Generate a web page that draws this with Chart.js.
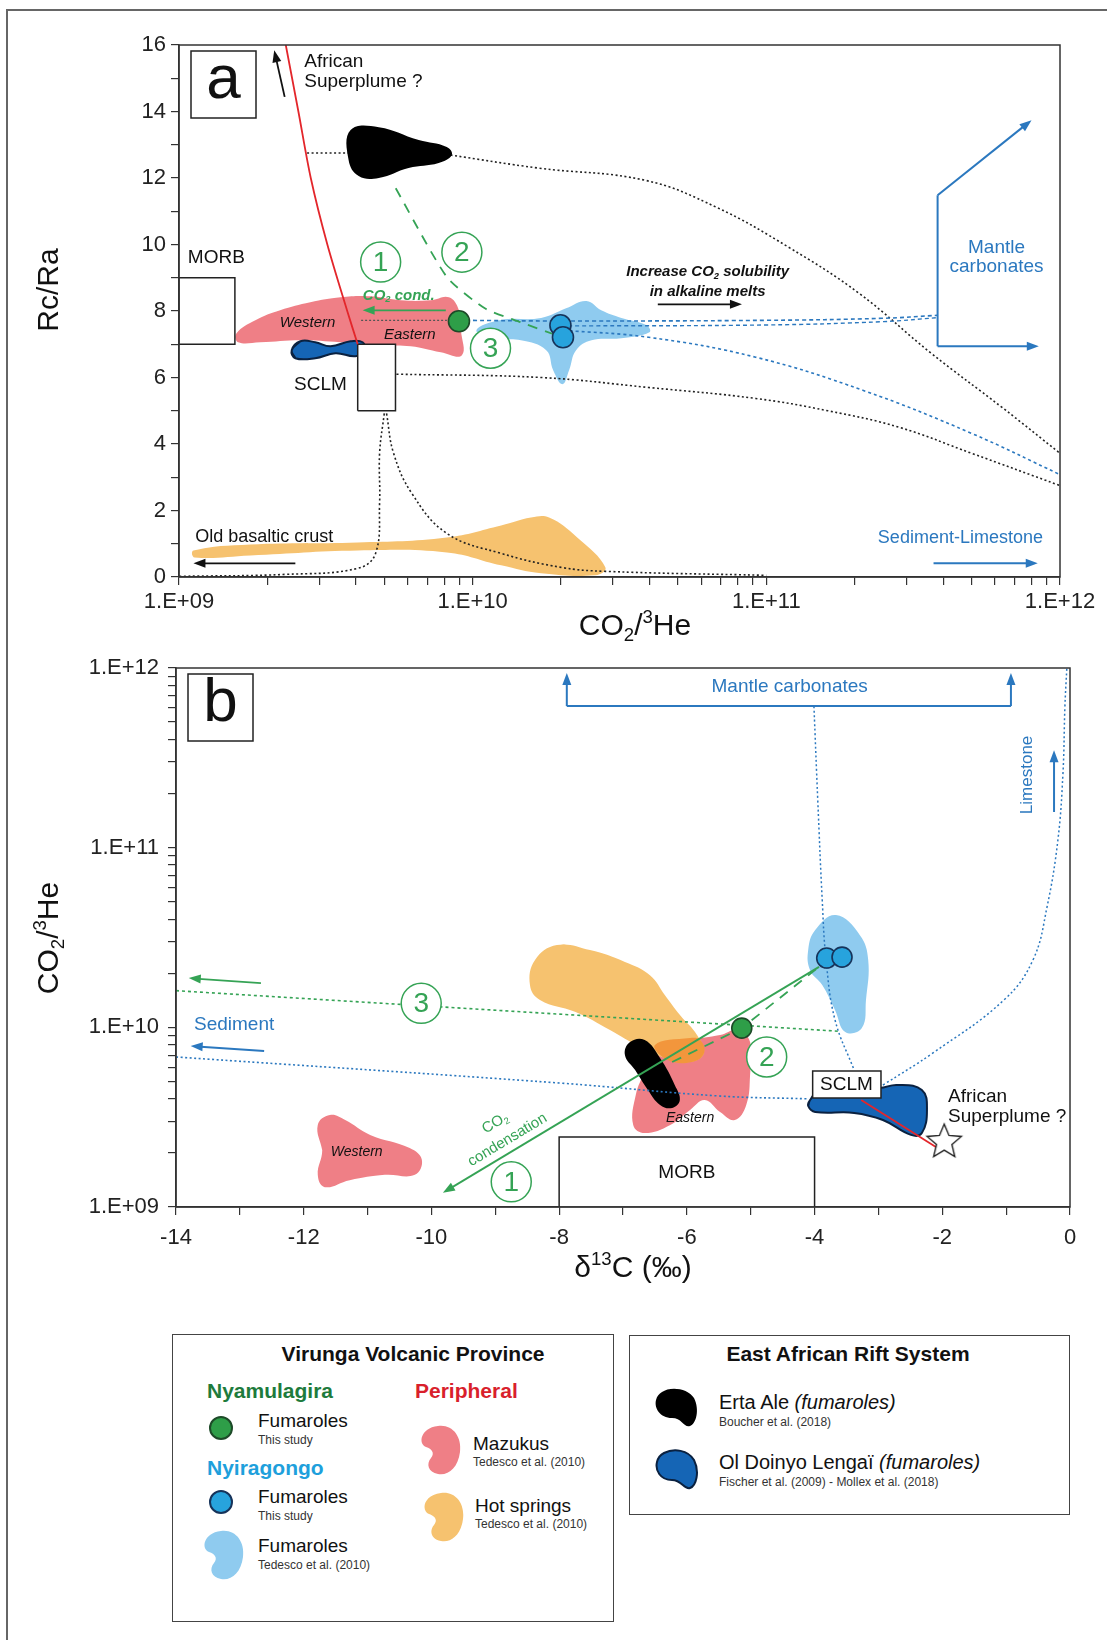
<!DOCTYPE html>
<html>
<head>
<meta charset="utf-8">
<title>Rc/Ra and CO2/3He diagrams</title>
<script src="https://cdn.jsdelivr.net/npm/chart.js@4.4.1/dist/chart.umd.min.js"></script>
<style>
  body { margin: 0; background: #fff; font-family: "Liberation Sans", Arial, sans-serif; color: #111; }
  #page { position: relative; width: 1107px; height: 1640px; overflow: hidden; }
  #frame { position: absolute; left: 6px; top: 9px; width: 1200px; height: 1700px; border: 2px solid #666; }
  canvas { position: absolute; left: 0; }
  .box { position: absolute; border: 1.5px solid #444; background: #fff; }
  .t { position: absolute; white-space: nowrap; line-height: 1; transform: translateY(-50%); }
  .c { transform: translate(-50%, -50%); }
  .hd { font-weight: bold; font-size: 21px; }
  .nm { font-size: 19px; }
  .rf { font-size: 12px; color: #333; }
  .dot { position: absolute; width: 24px; height: 24px; border-radius: 50%; box-sizing: border-box; border: 2px solid #163; transform: translate(-50%, -50%); }
  svg.ic { position: absolute; transform: translate(-50%, -50%); }
</style>
</head>
<body>
<div id="page">
  <div id="frame"></div>
  <canvas id="chartA" width="1107" height="645" style="top:0"></canvas>
  <canvas id="chartB" width="1107" height="660" style="top:640px"></canvas>

  <!-- legend: Virunga Volcanic Province -->
  <div class="box" style="left:172px;top:1334px;width:440px;height:286px"></div>
  <div class="t c hd" style="left:413px;top:1353px">Virunga Volcanic Province</div>
  <div class="t hd" style="left:207px;top:1390px;color:#1e7b3c">Nyamulagira</div>
  <div class="t hd" style="left:415px;top:1390px;color:#d91f2c">Peripheral</div>
  <div class="dot" style="left:221px;top:1428px;background:#2e9e48;border-color:#1d4a28"></div>
  <div class="t nm" style="left:258px;top:1420px">Fumaroles</div>
  <div class="t rf" style="left:258px;top:1440px">This study</div>
  <div class="t hd" style="left:207px;top:1467px;color:#1ea0dc">Nyiragongo</div>
  <div class="dot" style="left:221px;top:1502px;background:#27a3dd;border-color:#16335a"></div>
  <div class="t nm" style="left:258px;top:1496px">Fumaroles</div>
  <div class="t rf" style="left:258px;top:1516px">This study</div>
  <svg class="ic" style="left:223px;top:1555px" width="44" height="52" viewBox="0 0 44 52"><path d="M20 2 C34 0 44 12 42 28 C40 44 30 52 20 50 C10 48 8 40 13 34 C17 29 14 25 8 23 C0 20 2 4 20 2 Z" fill="#8fcbef"/></svg>
  <div class="t nm" style="left:258px;top:1545px">Fumaroles</div>
  <div class="t rf" style="left:258px;top:1565px">Tedesco et al. (2010)</div>
  <svg class="ic" style="left:440px;top:1450px" width="44" height="52" viewBox="0 0 44 52"><path d="M20 2 C34 0 44 12 42 28 C40 44 30 52 20 50 C10 48 8 40 13 34 C17 29 14 25 8 23 C0 20 2 4 20 2 Z" fill="#ef7f86"/></svg>
  <div class="t nm" style="left:473px;top:1443px">Mazukus</div>
  <div class="t rf" style="left:473px;top:1462px">Tedesco et al. (2010)</div>
  <svg class="ic" style="left:443px;top:1517px" width="44" height="52" viewBox="0 0 44 52"><path d="M20 2 C34 0 44 12 42 28 C40 44 30 52 20 50 C10 48 8 40 13 34 C17 29 14 25 8 23 C0 20 2 4 20 2 Z" fill="#f6c26f"/></svg>
  <div class="t nm" style="left:475px;top:1505px">Hot springs</div>
  <div class="t rf" style="left:475px;top:1524px">Tedesco et al. (2010)</div>

  <!-- legend: East African Rift System -->
  <div class="box" style="left:629px;top:1335px;width:439px;height:178px"></div>
  <div class="t c hd" style="left:848px;top:1353px">East African Rift System</div>
  <svg class="ic" style="left:677px;top:1407px" width="46" height="42" viewBox="0 0 46 42"><path d="M8 6 C16 0 34 2 40 12 C46 24 42 38 36 40 C30 42 28 32 18 32 C6 32 0 22 2 14 C3 10 5 8 8 6 Z" fill="#000"/></svg>
  <div class="t nm" style="left:719px;top:1402px;font-size:20px">Erta Ale <i>(fumaroles)</i></div>
  <div class="t rf" style="left:719px;top:1422px">Boucher et al. (2018)</div>
  <svg class="ic" style="left:677px;top:1469px" width="46" height="42" viewBox="0 0 46 42"><path d="M10 5 C20 0 34 2 40 12 C46 24 42 38 36 40 C30 42 28 32 18 32 C6 32 1 22 3 14 C4 10 6 7 10 5 Z" fill="#1565b5" stroke="#0a2140" stroke-width="2"/></svg>
  <div class="t nm" style="left:719px;top:1462px;font-size:20px">Ol Doinyo Lengaï <i>(fumaroles)</i></div>
  <div class="t rf" style="left:719px;top:1482px">Fischer et al. (2009) - Mollex et al. (2018)</div>
</div>

<script>
// ---------- panel a : Rc/Ra vs CO2/3He ----------
const aErtaAle = [[3.84e9,13.44],[4.79e9,13.53],[6.55e9,13.14],[8.16e9,12.93],[8.49e9,12.69],[7.66e9,12.45],[6.05e9,12.30],[4.79e9,12.0],[4.09e9,12.06],[3.78e9,12.54]];
const aMazukus = [[1.57e9,7.33],[1.82e9,7.72],[2.21e9,8.02],[2.80e9,8.26],[3.55e9,8.41],[4.49e9,8.44],[5.69e9,8.32],[7.2e9,8.32],[8.3e9,8.41],[8.98e9,8.02],[9.12e9,7.42],[9.19e9,6.67],[7.79e9,6.76],[6.15e9,6.94],[4.86e9,6.97],[3.55e9,7.06],[2.59e9,7.12],[1.89e9,7.06],[1.59e9,7.06]];
const aLengai = [[2.42e9,6.82],[2.59e9,7.09],[2.91e9,7.06],[3.28e9,6.94],[3.84e9,7.09],[4.22e9,7.06],[4.29e9,6.82],[3.99e9,6.64],[3.41e9,6.73],[2.91e9,6.58],[2.49e9,6.58]];
const aNyiraTedesco = [[1.03e10,7.43],[1.25e10,7.73],[1.71e10,7.79],[2.08e10,8.08],[2.44e10,8.30],[2.74e10,8.02],[3.21e10,7.79],[3.91e10,7.57],[4.0e10,7.36],[3.21e10,7.18],[2.54e10,7.12],[2.25e10,6.82],[2.13e10,6.22],[2.02e10,5.80],[1.88e10,6.22],[1.78e10,6.82],[1.46e10,7.12],[1.16e10,7.18]];
const aHotSprings = [[1.12e9,0.80],[1.75e9,0.98],[4.06e9,1.04],[8.17e9,1.19],[1.25e10,1.55],[1.58e10,1.79],[1.82e10,1.79],[2.27e10,1.19],[2.83e10,0.29],[2.62e10,0.05],[1.71e10,0.11],[1.25e10,0.35],[8.17e9,0.74],[4.06e9,0.80],[1.75e9,0.65],[1.13e9,0.59]];
const aMorbBox = [[1e9,7],[1.55e9,7],[1.55e9,9],[1e9,9]];
const aSclmBox = [[4.06e9,5],[5.46e9,5],[5.46e9,7],[4.06e9,7]];
const aPlume = [[2.31e9,16],[2.55e9,14],[2.81e9,12],[3.2e9,10],[3.74e9,8],[4.06e9,7]];
const aMixPlumeLeft = [[2.73e9,12.75],[3.78e9,12.75]];
const aMixPlume = [[8.4e9,12.69],[1.67e10,12.30],[3.87e10,11.93],[6.76e10,11.12],[1.19e11,9.92],[2.07e11,8.53],[3.64e11,6.73],[6.35e11,5.10],[1e12,3.72]];
const aMixSclm = [[5.5e9,6.10],[1.71e10,6.0],[3.97e10,5.70],[9.2e10,5.37],[1.62e11,5.0],[2.84e11,4.5],[5.0e11,3.72],[1e12,2.75]];
const aMixCrustL = [[5.0e9,4.92],[4.82e9,3.72],[4.82e9,2.22],[4.67e9,0.71],[4.06e9,0.26],[2.32e9,0.08],[1e9,0.02]];
const aMixCrustR = [[5.09e9,4.92],[5.38e9,3.72],[6.2e9,2.52],[8.17e9,1.31],[1.25e10,0.71],[2.0e10,0.29],[2.83e10,0.17],[1e11,0.05]];
const aGreyLink = [[4.17e9,7.72],[8.17e9,7.72]];
const aBlueFlat = [[8.98e9,7.72],[2.0e10,7.70],[1e11,7.72],[2.48e11,7.78],[3.83e11,7.87]];
const aBlueFlat2 = [[2.0e10,7.55],[1e11,7.58],[2.5e11,7.68],[3.83e11,7.80]];
const aBlueDown = [[2.04e10,7.42],[3.97e10,7.21],[9.2e10,6.61],[2.14e11,5.61],[5.0e11,4.32],[1e12,3.08]];
const aGreenMix = [[5.47e9,11.69],[8.17e9,9.02],[1.10e10,8.08],[1.46e10,7.66],[1.93e10,7.27]];
const aCarbVert = [[3.83e11,6.94],[3.83e11,11.48]];
const aGreenDot = [[8.98e9,7.69]];
const aBlueDots = [[1.99e10,7.57],[2.03e10,7.21]];
const aXTicks = [1e9,2e9,3e9,4e9,5e9,6e9,7e9,8e9,9e9,1e10,2e10,3e10,4e10,5e10,6e10,7e10,8e10,9e10,1e11,2e11,3e11,4e11,5e11,6e11,7e11,8e11,9e11,1e12];
const aYLabels = ['0','2','4','6','8','10','12','14','16'];

// ---------- panel b : CO2/3He vs d13C ----------
const bErtaAle = [[-6.89,8.28e9],[-6.66,8.49e9],[-6.42,6.75e9],[-6.19,4.78e9],[-6.11,3.94e9],[-6.23,3.56e9],[-6.42,3.70e9],[-6.61,4.48e9],[-6.81,5.78e9],[-6.97,7.02e9]];
const bMazukusE = [[-6.58,7.48e9],[-5.95,8.49e9],[-5.48,9.06e9],[-5.20,9.66e9],[-5.01,8.28e9],[-5.01,5.43e9],[-5.07,3.70e9],[-5.25,3.05e9],[-5.48,3.38e9],[-5.72,3.94e9],[-5.95,3.47e9],[-6.26,2.86e9],[-6.66,2.58e9],[-6.84,2.86e9],[-6.80,4.20e9],[-6.66,5.78e9]];
const bMazukusW = [[-11.78,2.86e9],[-11.59,3.25e9],[-11.35,3.05e9],[-10.96,2.52e9],[-10.34,2.13e9],[-10.15,1.83e9],[-10.26,1.51e9],[-10.73,1.51e9],[-11.28,1.41e9],[-11.67,1.29e9],[-11.78,1.51e9],[-11.71,2.07e9]];
const bHotSprings = [[-8.034,2.87e10],[-7.517,2.69e10],[-6.969,2.31e10],[-6.578,1.95e10],[-6.343,1.51e10],[-6.108,1.17e10],[-5.841,9.06e9],[-5.732,7.2e9],[-5.951,6.41e9],[-6.343,6.75e9],[-6.734,7.76e9],[-7.204,9.66e9],[-7.752,1.22e10],[-8.30,1.42e10],[-8.457,1.72e10],[-8.378,2.37e10]];
const bOverlap = [[-6.50,7.98e9],[-5.95,8.71e9],[-5.79,8.49e9],[-5.73,7.2e9],[-5.92,6.41e9],[-6.30,6.58e9]];
const bNyiraTedesco = [[-3.665,4.22e10],[-3.29,3.26e10],[-3.16,2.37e10],[-3.195,1.42e10],[-3.26,9.9e9],[-3.52,9.42e9],[-3.68,1.25e10],[-3.88,1.72e10],[-4.07,2.08e10],[-4.10,2.69e10],[-3.99,3.48e10]];
const bLengai = [[-4.07,3.94e9],[-3.92,4.48e9],[-2.98,4.59e9],[-2.71,4.78e9],[-2.32,4.48e9],[-2.24,3.47e9],[-2.32,2.58e9],[-2.49,2.52e9],[-2.93,3.05e9],[-3.38,3.34e9],[-3.99,3.38e9],[-4.10,3.65e9]];
const bSclmBox = [[-4.03,4.04e9],[-2.96,4.04e9],[-2.96,5.71e9],[-4.03,5.71e9]];
const bMorbBox = [[-8,1e9],[-4,1e9],[-4,2.45e9],[-8,2.45e9]];
const bPlume = [[-3.27,3.94e9],[-2.10,2.16e9]];
const bStar = [[-1.97,2.3e9]];
const bGreenDot = [[-5.14,9.9e9]];
const bBlueDots = [[-3.81,2.43e10],[-3.57,2.46e10]];
const bGreenMix = [[-6.23,6.41e9],[-5.14,9.9e9],[-3.93,2.17e10]];
const bGreenDotted = [[-14,1.6e10],[-3.6,9.5e9]];
const bSediment = [[-14,6.84e9],[-8,4.9e9],[-5.5,4.15e9],[-4.1,4.0e9]];
const bCarbDrop = [[-4.01,6.14e11],[-3.95,1.84e11],[-3.88,5.1e10],[-3.82,2.37e10],[-3.68,1.1e10],[-3.38,5.78e9]];
const bLimestone = [[-2.93,4.77e9],[-2.146,7.2e9],[-1.034,1.42e10],[-0.58,2.37e10],[-0.36,4.67e10],[-0.19,1.1e11],[-0.11,2.6e11],[-0.08,6.05e11],[-0.05,1e12]];
const bCarbBar = [[-7.88,6.14e11],[-0.925,6.14e11]];
const bYTicks = [1e9,2e9,3e9,4e9,5e9,6e9,7e9,8e9,9e9,1e10,2e10,3e10,4e10,5e10,6e10,7e10,8e10,9e10,1e11,2e11,3e11,4e11,5e11,6e11,7e11,8e11,9e11,1e12];
const bXLabels = ['-14','-12','-10','-8','-6','-4','-2','0'];
const expLabels = ['1.E+09','1.E+10','1.E+11','1.E+12'];

const FAM = '"Liberation Sans", Arial, sans-serif';
Chart.defaults.font.family = FAM;
Chart.defaults.color = '#222';

const PINK = '#ef7f86', LBLUE = '#8fcbef', ORANGE = '#f6c26f', DBLUE = '#1565b5';
const GREEN = '#35a355', BLUE = '#2b78bf', RED = '#e3262b';

function pts(p) { return p.map(([x, y]) => ({ x, y })); }
// wrap round so the smoothed outline closes without a corner
function loop(p) { const n = p.length; return pts([p[n - 1]].concat(p, [p[0], p[1]])); }

function blob(p, color, border) {
  return { data: loop(p), fill: 'shape', backgroundColor: color, borderColor: border || 'rgba(0,0,0,0)', borderWidth: border ? 2 : 0, tension: 0.42 };
}
function rect(p) {
  return { data: pts(p.concat([p[0]])), fill: 'shape', backgroundColor: '#fff', borderColor: '#222', borderWidth: 1.5, tension: 0 };
}
function line(p, color, dash, w, tension) {
  return { data: pts(p), fill: false, borderColor: color, borderDash: dash || [], borderWidth: w || 1.6, tension: tension == null ? 0.4 : tension };
}
function dots(p, fillc, edge, r) {
  return { data: pts(p), showLine: false, pointRadius: r || 10.5, pointBackgroundColor: fillc, pointBorderColor: edge, pointBorderWidth: 1.6 };
}
// first in list = bottom layer
function build(list) {
  return list.map((d, i) => Object.assign({ order: list.length - i, pointRadius: 0, pointHoverRadius: 0 }, d));
}

function starImage(r) {
  const c = document.createElement('canvas');
  c.width = c.height = 2 * r + 4;
  const g = c.getContext('2d');
  g.beginPath();
  for (let i = 0; i < 10; i++) {
    const ang = -Math.PI / 2 + i * Math.PI / 5, rr = i % 2 ? r * 0.45 : r;
    g.lineTo(r + 2 + rr * Math.cos(ang), r + 2 + rr * Math.sin(ang));
  }
  g.closePath();
  g.fillStyle = '#fff'; g.fill();
  g.strokeStyle = '#222'; g.lineWidth = 1.4; g.stroke();
  return c;
}

function richParts(s) {
  return s.split(/([_^]\{[^}]*\})/).filter(p => p).map(p =>
    p[0] === '_' && p[1] === '{' ? { t: p.slice(2, -1), k: 1 } :
    p[0] === '^' && p[1] === '{' ? { t: p.slice(2, -1), k: -1 } : { t: p, k: 0 });
}
function drawRich(ctx, s, x, y, o) {
  const size = o.size || 18;
  const pre = (o.italic ? 'italic ' : '') + (o.bold ? 'bold ' : '');
  const parts = richParts(s);
  let w = 0;
  parts.forEach(p => { p.fs = p.k ? size * 0.62 : size; ctx.font = pre + p.fs + 'px ' + FAM; p.w = ctx.measureText(p.t).width; w += p.w; });
  ctx.save();
  ctx.translate(x, y);
  if (o.rot) ctx.rotate(o.rot * Math.PI / 180);
  ctx.fillStyle = o.color || '#111';
  ctx.textBaseline = 'middle';
  ctx.textAlign = 'left';
  let cx = o.align === 'left' ? 0 : o.align === 'right' ? -w : -w / 2;
  parts.forEach(p => {
    ctx.font = pre + p.fs + 'px ' + FAM;
    ctx.fillText(p.t, cx, p.k === 1 ? size * 0.3 : p.k === -1 ? -size * 0.3 : 0);
    cx += p.w;
  });
  ctx.restore();
}

function drawArrow(ctx, p, color, w) {
  const n = p.length, [x1, y1] = p[n - 2], [x2, y2] = p[n - 1];
  const ang = Math.atan2(y2 - y1, x2 - x1), L = 12, H = 4.5;
  ctx.save();
  ctx.strokeStyle = color; ctx.fillStyle = color; ctx.lineWidth = w || 1.8; ctx.setLineDash([]);
  ctx.beginPath();
  p.forEach((q, i) => {
    const last = i === n - 1;
    const qx = last ? q[0] - (L - 2) * Math.cos(ang) : q[0], qy = last ? q[1] - (L - 2) * Math.sin(ang) : q[1];
    i ? ctx.lineTo(qx, qy) : ctx.moveTo(qx, qy);
  });
  ctx.stroke();
  ctx.beginPath();
  ctx.moveTo(x2, y2);
  ctx.lineTo(x2 - L * Math.cos(ang) + H * Math.sin(ang), y2 - L * Math.sin(ang) - H * Math.cos(ang));
  ctx.lineTo(x2 - L * Math.cos(ang) - H * Math.sin(ang), y2 - L * Math.sin(ang) + H * Math.cos(ang));
  ctx.closePath();
  ctx.fill();
  ctx.restore();
}

function notes(n) {
  return {
    id: 'notes',
    afterDatasetsDraw(chart) {
      const ctx = chart.ctx, ca = chart.chartArea;
      const X = v => chart.scales.x.getPixelForValue(v), Y = v => chart.scales.y.getPixelForValue(v);
      ctx.save();
      ctx.strokeStyle = '#333'; ctx.lineWidth = 1.5;
      ctx.strokeRect(ca.left, ca.top, ca.right - ca.left, ca.bottom - ca.top);
      n.arrows.forEach(a => drawArrow(ctx, a.p.map(([x, y]) => [X(x), Y(y)]), a.c, a.w));
      n.circles.forEach(c => {
        ctx.beginPath(); ctx.arc(X(c.x), Y(c.y), 20, 0, 2 * Math.PI);
        ctx.fillStyle = '#fff'; ctx.fill();
        ctx.strokeStyle = GREEN; ctx.lineWidth = 1.5; ctx.stroke();
        drawRich(ctx, c.t, X(c.x), Y(c.y) + 1, { size: 28, color: GREEN });
      });
      n.texts.forEach(t => drawRich(ctx, t.t, X(t.x), Y(t.y), t));
      // panel letter
      const bx = ca.left + 12, by = ca.top + 6;
      ctx.fillStyle = '#fff'; ctx.fillRect(bx, by, 65, 67);
      ctx.strokeStyle = '#222'; ctx.lineWidth = 1.5; ctx.strokeRect(bx, by, 65, 67);
      drawRich(ctx, n.panel, bx + 32.5, by + 30, { size: 62 });
      n.titles.forEach(t => drawRich(ctx, t.t, t.x, t.y, { size: 30, rot: t.rot }));
      ctx.restore();
    }
  };
}

function expLabel(v) {
  const e = Math.round(Math.log10(v));
  return Math.abs(v - Math.pow(10, e)) < 1e-6 * v ? expLabels[e - 9] : '';
}
const grid = { drawOnChartArea: false, tickLength: 8, color: '#333', lineWidth: 1.2 };
const border = { color: '#333', width: 1.5 };
const tickFont = { size: 22 };

// ---------- chart a ----------
new Chart(document.getElementById('chartA'), {
  type: 'line',
  data: {
    datasets: build([
      blob(aHotSprings, ORANGE),
      line(aMixCrustL, '#222', [2, 2.5], 1.6),
      line(aMixCrustR, '#222', [2, 2.5], 1.6),
      blob(aMazukus, PINK),
      blob(aNyiraTedesco, LBLUE),
      line(aMixPlumeLeft, '#222', [2, 2.5], 1.6, 0),
      line(aMixPlume, '#222', [2, 2.5], 1.6),
      line(aMixSclm, '#222', [2, 2.5], 1.6),
      line(aGreyLink, '#555', [2, 2], 1.2, 0),
      line(aBlueFlat, BLUE, [4, 3], 1.6),
      line(aBlueFlat2, BLUE, [4, 3], 1.4),
      line(aBlueDown, BLUE, [3, 3], 1.6),
      line(aCarbVert, BLUE, [], 2, 0),
      blob(aLengai, DBLUE, '#0a2140'),
      blob(aErtaAle, '#000'),
      rect(aMorbBox),
      rect(aSclmBox),
      line(aPlume, RED, [], 1.8, 0.3),
      line(aGreenMix, GREEN, [10, 8], 1.8, 0.2),
      dots(aGreenDot, '#2e9e48', '#1d4a28'),
      dots(aBlueDots, '#27a3dd', '#16335a')
    ])
  },
  options: {
    responsive: false, animation: false, events: [],
    layout: { padding: { top: 45, right: 47, left: 0, bottom: 0 } },
    plugins: { legend: { display: false }, tooltip: { enabled: false } },
    scales: {
      x: {
        type: 'logarithmic', min: 1e9, max: 1e12,
        afterBuildTicks: s => { s.ticks = aXTicks.map(v => ({ value: v })); },
        afterFit: s => { s.height = 68; },
        ticks: { autoSkip: false, maxRotation: 0, font: tickFont, padding: 4, callback: expLabel },
        grid, border
      },
      y: {
        type: 'linear', min: 0, max: 16,
        afterFit: s => { s.width = 179; },
        ticks: { stepSize: 1, autoSkip: false, font: tickFont, padding: 5, callback: v => v % 2 === 0 ? aYLabels[v / 2] : '' },
        grid, border
      }
    }
  },
  plugins: [notes({
    panel: 'a',
    titles: [
      { t: 'Rc/Ra', x: 50, y: 290, rot: -90 },
      { t: 'CO_{2}/^{3}He', x: 635, y: 627 }
    ],
    arrows: [
      { p: [[2.29e9, 14.44], [2.11e9, 15.84]], c: '#111' },
      { p: [[8.1e9, 8.02], [4.22e9, 8.02]], c: GREEN },
      { p: [[4.27e10, 8.2], [8.26e10, 8.2]], c: '#111' },
      { p: [[3.83e11, 11.48], [8.0e11, 13.74]], c: BLUE, w: 2 },
      { p: [[3.83e11, 6.94], [8.47e11, 6.94]], c: BLUE, w: 2 },
      { p: [[2.49e9, 0.41], [1.12e9, 0.41]], c: '#111' },
      { p: [[3.71e11, 0.41], [8.4e11, 0.41]], c: BLUE, w: 2 }
    ],
    circles: [
      { t: '1', x: 4.86e9, y: 9.47 },
      { t: '2', x: 9.19e9, y: 9.77 },
      { t: '3', x: 1.15e10, y: 6.88 }
    ],
    texts: [
      { t: 'African', x: 2.67e9, y: 15.49, size: 19, align: 'left' },
      { t: 'Superplume ?', x: 2.67e9, y: 14.89, size: 19, align: 'left' },
      { t: 'MORB', x: 1.34e9, y: 9.59, size: 19 },
      { t: 'SCLM', x: 3.03e9, y: 5.77, size: 19 },
      { t: 'Western', x: 2.74e9, y: 7.63, size: 15, italic: true },
      { t: 'Eastern', x: 6.11e9, y: 7.27, size: 15, italic: true },
      { t: 'CO_{2} cond.', x: 5.6e9, y: 8.47, size: 15, italic: true, bold: true, color: GREEN },
      { t: 'Increase CO_{2} solubility', x: 6.31e10, y: 9.17, size: 15, italic: true, bold: true },
      { t: 'in alkaline melts', x: 6.31e10, y: 8.57, size: 15, italic: true, bold: true },
      { t: 'Mantle', x: 6.08e11, y: 9.89, size: 19, color: BLUE },
      { t: 'carbonates', x: 6.08e11, y: 9.32, size: 19, color: BLUE },
      { t: 'Old basaltic crust', x: 1.95e9, y: 1.19, size: 18 },
      { t: 'Sediment-Limestone', x: 4.58e11, y: 1.16, size: 18, color: BLUE }
    ]
  })]
});

// ---------- chart b ----------
new Chart(document.getElementById('chartB'), {
  type: 'line',
  data: {
    datasets: build([
      blob(bMazukusW, PINK),
      blob(bMazukusE, PINK),
      blob(bHotSprings, ORANGE),
      blob(bOverlap, '#f2963c'),
      blob(bErtaAle, '#000'),
      blob(bNyiraTedesco, LBLUE),
      blob(bLengai, DBLUE, '#0a2140'),
      line(bPlume, RED, [], 1.8, 0),
      rect(bSclmBox),
      rect(bMorbBox),
      line(bSediment, BLUE, [2, 2.5], 1.6),
      line(bGreenDotted, GREEN, [3, 3], 1.6, 0),
      line(bCarbDrop, BLUE, [2, 2.5], 1.5),
      line(bLimestone, BLUE, [2, 2.5], 1.5),
      line(bCarbBar, BLUE, [], 2, 0),
      line(bGreenMix, GREEN, [10, 8], 1.8, 0),
      dots(bGreenDot, '#2e9e48', '#1d4a28', 10),
      dots(bBlueDots, '#27a3dd', '#16335a', 10),
      { data: pts(bStar), showLine: false, pointStyle: starImage(18), pointRadius: 18 }
    ])
  },
  options: {
    responsive: false, animation: false, events: [],
    layout: { padding: { top: 28, right: 37, left: 0, bottom: 0 } },
    plugins: { legend: { display: false }, tooltip: { enabled: false } },
    scales: {
      x: {
        type: 'linear', min: -14, max: 0,
        afterFit: s => { s.height = 93; },
        ticks: { stepSize: 1, autoSkip: false, maxRotation: 0, font: tickFont, padding: 10, callback: v => v % 2 === 0 ? bXLabels[(v + 14) / 2] : '' },
        grid, border
      },
      y: {
        type: 'logarithmic', min: 1e9, max: 1e12,
        afterBuildTicks: s => { s.ticks = bYTicks.map(v => ({ value: v })); },
        afterFit: s => { s.width = 176; },
        ticks: { autoSkip: false, font: tickFont, padding: 9, callback: expLabel },
        grid, border
      }
    }
  },
  plugins: [notes({
    panel: 'b',
    titles: [
      { t: 'CO_{2}/^{3}He', x: 50, y: 298, rot: -90 },
      { t: 'δ^{13}C (‰)', x: 633, y: 629 }
    ],
    arrows: [
      { p: [[-7.88, 6.14e11], [-7.88, 9.37e11]], c: BLUE, w: 2 },
      { p: [[-0.925, 6.14e11], [-0.925, 9.37e11]], c: BLUE, w: 2 },
      { p: [[-0.25, 1.58e11], [-0.25, 3.49e11]], c: BLUE, w: 2 },
      { p: [[-12.62, 7.38e9], [-13.77, 7.87e9]], c: BLUE, w: 2 },
      { p: [[-12.67, 1.76e10], [-13.8, 1.88e10]], c: GREEN, w: 1.8 },
      { p: [[-3.93, 2.17e10], [-9.82, 1.2e9]], c: GREEN, w: 1.8 }
    ],
    circles: [
      { t: '1', x: -8.75, y: 1.38e9 },
      { t: '2', x: -4.75, y: 6.84e9 },
      { t: '3', x: -10.16, y: 1.36e10 }
    ],
    texts: [
      { t: 'Mantle carbonates', x: -4.39, y: 7.84e11, size: 19, color: BLUE },
      { t: 'Limestone', x: -0.67, y: 2.54e11, size: 17, color: BLUE, rot: -90 },
      { t: 'Sediment', x: -13.09, y: 1.03e10, size: 19, color: BLUE },
      { t: 'Western', x: -11.17, y: 2.02e9, size: 14, italic: true },
      { t: 'Eastern', x: -5.95, y: 3.13e9, size: 14, italic: true },
      { t: 'SCLM', x: -3.5, y: 4.82e9, size: 19 },
      { t: 'MORB', x: -6, y: 1.55e9, size: 19 },
      { t: 'African', x: -1.91, y: 4.1e9, size: 19, align: 'left' },
      { t: 'Superplume ?', x: -1.91, y: 3.17e9, size: 19, align: 'left' },
      { t: 'CO_{2}', x: -9.0, y: 2.93e9, size: 15, color: GREEN, rot: -31 },
      { t: 'condensation', x: -8.81, y: 2.36e9, size: 15, color: GREEN, rot: -31 }
    ]
  })]
});
</script>
</body>
</html>
